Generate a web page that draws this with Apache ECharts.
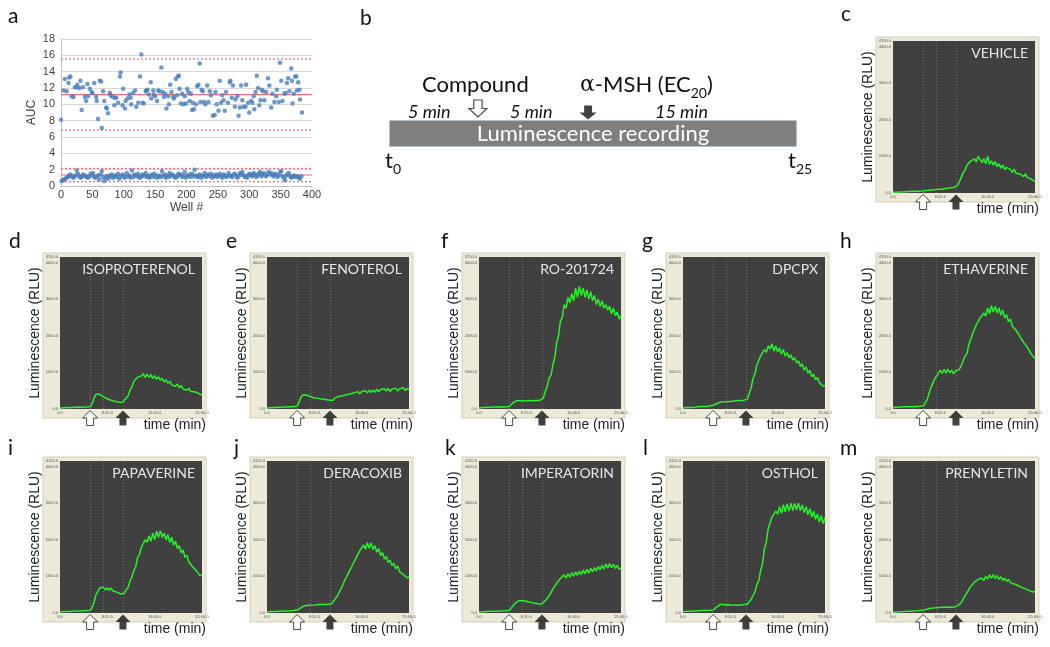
<!DOCTYPE html>
<html><head><meta charset="utf-8">
<script src="https://cdn.jsdelivr.net/npm/echarts@6/dist/echarts.min.js"></script>
<style>html,body{margin:0;padding:0;background:#fff}#chart{width:1050px;height:647px}</style>
</head><body><div id="chart"></div>
<script>
// ---------- Panel a: AUC per well ----------
const highGroup = [[0,8.1],[4,11.7],[6,13.1],[9,11.6],[12,12.6],[13,13.3],[15,13.4],[17,11.0],[20,10.9],[22,12.1],[25,12.1],[26,12.4],[29,12.0],[31,12.9],[33,9.3],[35,12.1],[38,10.9],[40,10.4],[42,12.5],[43,11.0],[46,11.9],[49,11.5],[50,11.4],[53,12.6],[56,10.9],[57,10.4],[59,8.2],[62,12.9],[64,12.8],[65,7.1],[67,11.6],[69,10.4],[72,9.6],[73,9.5],[75,8.9],[78,11.4],[79,11.1],[82,10.9],[85,9.9],[86,10.8],[88,10.8],[91,10.2],[94,13.4],[95,13.9],[98,9.9],[99,11.9],[102,9.5],[103,10.4],[106,10.7],[109,11.2],[111,10.8],[112,10.0],[115,11.4],[118,11.7],[120,9.7],[123,10.2],[126,13.4],[128,16.1],[130,10.2],[132,10.1],[135,11.6],[136,11.7],[138,11.8],[140,11.2],[143,12.7],[144,10.7],[147,11.7],[148,11.2],[150,11.0],[153,10.4],[155,11.7],[157,11.6],[160,14.5],[162,11.5],[164,10.9],[166,11.3],[168,9.5],[171,11.0],[172,10.0],[174,12.4],[176,11.5],[179,10.9],[180,10.7],[183,13.1],[185,11.1],[186,13.4],[188,13.5],[189,11.9],[191,10.1],[193,11.3],[195,10.0],[197,11.0],[199,10.1],[201,11.9],[203,11.5],[205,10.4],[207,11.3],[209,9.3],[210,10.2],[212,9.4],[215,10.0],[217,12.2],[219,12.4],[221,15.0],[222,10.3],[224,11.8],[226,11.6],[228,10.3],[230,10.0],[233,12.3],[235,10.3],[237,11.6],[239,11.1],[242,8.6],[245,8.7],[246,11.5],[248,10.0],[251,9.2],[253,12.9],[255,10.2],[257,11.1],[259,10.5],[261,9.2],[263,11.5],[266,10.2],[269,12.7],[270,12.9],[272,10.8],[274,12.3],[277,9.7],[278,10.6],[281,11.0],[283,8.6],[285,9.6],[287,12.3],[289,10.5],[291,9.7],[294,9.7],[295,12.4],[298,10.2],[300,9.0],[303,10.4],[305,10.2],[307,11.0],[308,9.4],[310,11.5],[312,13.5],[314,12.0],[316,9.9],[318,10.5],[320,11.8],[322,11.6],[324,10.5],[327,11.5],[330,13.2],[332,12.3],[335,9.6],[337,11.3],[340,10.3],[343,11.0],[344,11.8],[347,10.3],[349,15.1],[351,12.9],[353,10.4],[356,11.3],[358,11.4],[360,12.6],[362,13.2],[364,11.6],[367,14.4],[368,12.9],[369,10.1],[371,11.3],[373,13.4],[375,13.4],[376,11.7],[378,12.7],[380,11.8],[381,10.6],[384,9.0]];
const lowAUC = [0.6,0.7,0.8,0.9,1.0,1.1,1.3,1.4,1.2,1.0,1.1,1.3,1.9,1.5,1.2,1.0,1.1,1.4,1.3,1.2,
1.1,1.0,1.2,1.5,1.3,1.6,1.1,1.0,1.2,1.3,0.8,1.4,1.8,1.1,0.6,1.0,1.2,0.9,1.3,1.1,
1.4,1.0,1.2,1.3,1.1,1.5,0.9,1.2,1.3,1.4,1.0,1.1,1.6,1.2,1.3,1.0,1.9,1.1,1.4,1.3,
1.2,1.5,1.0,1.1,1.3,1.4,1.2,1.6,1.1,1.3,1.0,1.2,1.4,1.1,1.5,1.3,1.0,1.2,1.3,1.1,
1.8,1.2,1.4,1.0,1.3,1.1,1.6,1.2,1.4,1.3,1.1,1.0,1.2,1.5,1.3,1.4,1.1,1.2,1.7,1.0,
1.3,1.2,1.4,1.1,1.5,1.2,2.0,1.3,1.1,1.2,1.4,1.0,1.3,1.2,1.6,1.1,1.3,1.4,1.2,1.5,
1.0,1.3,1.2,1.4,1.1,1.3,1.5,1.2,1.0,1.4,1.3,1.1,1.2,1.6,1.3,1.2,1.1,1.4,1.5,1.3,
1.0,1.2,1.6,1.4,1.7,1.3,1.1,1.2,1.0,1.4,1.5,1.3,1.2,1.6,1.4,1.1,1.3,1.5,1.7,1.2,
1.4,1.6,1.3,1.2,1.5,1.7,1.4,1.6,1.3,1.2,1.5,1.4,1.1,1.3,1.7,1.8,1.2,1.0,0.7,1.3,
1.4,1.6,1.2,1.0,1.1,1.3,1.2,1.1,1.2,1.0,0.9,1.2];
const meanLines = [11.2, 1.35];              // group means
const sdLimitLines = [15.55, 6.85, 2.15, 0.53]; // mean ± 3SD
const wellRange = [0, 400];

// ---------- Panel b: protocol scheme (schematic positions on a 0-25 min bar) ----------
const schemeLength = 25;
const schemeCompoundX = 5.45;
const schemeMshX = 12.2;

// ---------- Panels c-m: luminescence traces (RLU every 20 s) ----------
const timeSec = [0,20,40,60,80,100,120,140,160,180,200,220,240,260,280,300,320,340,360,380,400,420,440,460,480,500,520,540,560,580,600,620,640,660,680,700,720,740,760,780,800,820,840,860,880,900,920,940,960,980,1000,1020,1040,1060,1080,1100,1120,1140,1160,1180,1200,1220,1240,1260,1280,1300,1320,1340,1360,1380,1400,1420,1440,1460,1480,1500];
const timeTickLabels = ['0.0','8:20.0','16:40.0','25:00.0'];
const eventLinesSec = [318, 460, 665];
const compoundSec = 318;
const mshSec = 665;

const traceVehicle = [20,25,22,30,28,35,33,38,40,37,45,42,48,50,47,55,58,65,70,68,80,85,90,95,100,110,105,120,125,130,140,135,150,160,200,300,420,550,620,760,780,870,840,930,850,1000,960,830,940,800,1000,780,880,760,860,720,800,680,760,640,700,660,640,560,650,540,580,520,540,450,520,420,430,380,370,310];
const traceIsoproterenol = [30,35,32,40,38,45,42,48,50,46,52,55,50,58,56,60,65,150,300,400,430,400,360,330,300,280,250,240,220,210,200,190,180,175,200,300,360,520,600,750,760,870,850,900,960,860,950,860,940,830,910,810,880,780,840,740,800,700,760,660,710,620,680,580,640,550,600,510,570,480,520,470,480,430,450,380];
const traceFenoterol = [30,40,35,45,40,50,45,55,48,52,58,50,60,55,62,65,80,200,330,390,370,380,350,340,320,300,310,290,280,270,285,260,250,240,280,240,310,270,340,310,360,330,390,340,410,380,440,390,470,410,480,430,500,440,510,450,520,460,540,470,530,480,550,490,560,480,540,500,570,490,550,510,580,500,560,530];
const traceRo201724 = [30,35,40,38,45,42,50,48,55,52,58,55,60,62,58,65,70,120,170,210,230,240,225,235,220,245,230,240,225,250,235,240,230,250,300,480,620,840,920,1200,1400,1800,2000,2400,2500,2850,2750,3050,2900,3150,2950,3300,3050,3350,3100,3300,3050,3250,3000,3200,2950,3100,2850,3000,2800,2950,2750,2850,2700,2800,2600,2750,2550,2650,2450,2550];
const traceDpcpx = [30,35,40,45,42,50,48,55,60,58,65,70,68,75,80,85,100,120,150,170,190,200,195,210,205,220,210,215,225,210,230,220,235,225,270,420,580,840,960,1200,1250,1450,1450,1620,1550,1720,1640,1780,1580,1720,1560,1660,1500,1620,1440,1540,1400,1480,1340,1400,1260,1320,1160,1240,1060,1150,980,1050,880,950,800,860,720,760,620,640];
const traceEthaverine = [40,45,50,48,55,52,60,58,62,65,60,68,70,66,72,75,80,130,250,420,580,700,820,900,940,1060,970,1080,980,1090,990,1060,960,1040,1060,1080,1180,1220,1440,1500,1750,1800,2050,2100,2300,2300,2480,2440,2620,2540,2760,2600,2820,2650,2800,2620,2760,2560,2700,2480,2580,2380,2460,2260,2300,2150,2150,1980,2000,1820,1850,1680,1700,1500,1520,1380];
const tracePapaverine = [30,35,38,40,42,45,48,50,52,55,58,55,60,62,65,68,75,150,300,500,580,690,650,700,630,690,620,680,600,640,570,590,520,540,540,640,700,880,980,1160,1260,1520,1600,1800,1800,2000,1930,2100,1960,2180,2000,2230,2060,2250,2060,2180,1990,2140,1920,2070,1850,1960,1760,1840,1640,1720,1520,1580,1400,1440,1260,1300,1150,1180,1020,1040];
const traceDeracoxib = [30,35,38,40,42,45,48,50,52,55,58,60,62,65,68,70,80,110,150,180,200,220,210,230,215,235,220,225,240,220,230,215,235,225,250,310,350,450,500,650,700,880,920,1090,1120,1290,1310,1500,1520,1700,1680,1860,1740,1920,1770,1910,1730,1840,1660,1760,1570,1650,1470,1540,1380,1440,1300,1360,1210,1280,1130,1180,1050,1100,960,1000];
const traceImperatorin = [30,32,35,38,40,42,45,48,50,52,50,55,58,60,62,65,75,130,200,260,300,330,320,340,310,320,300,290,280,270,260,255,250,245,270,330,370,470,520,650,680,810,820,940,920,1040,950,1070,980,1100,1010,1120,1030,1140,1050,1170,1070,1190,1090,1220,1130,1240,1150,1270,1180,1300,1200,1340,1230,1350,1240,1330,1220,1300,1190,1230];
const traceOsthol = [40,42,45,48,50,52,55,58,60,62,65,68,70,72,75,78,85,120,170,210,240,230,220,245,225,235,215,230,220,240,210,225,230,220,240,310,370,470,580,780,870,1150,1350,1750,1950,2300,2350,2620,2580,2780,2700,2900,2720,2960,2760,2980,2780,3000,2800,2990,2820,3000,2800,2950,2740,2900,2680,2850,2620,2780,2560,2700,2480,2660,2440,2600];
const tracePrenyletin = [20,25,28,30,32,35,38,40,45,48,50,55,58,60,65,70,80,90,100,110,130,150,140,160,150,165,155,170,160,175,165,170,160,175,190,240,280,380,420,550,580,720,720,840,820,920,880,950,890,1000,930,1040,950,1050,940,1020,920,990,890,950,860,920,830,880,790,840,750,790,700,740,660,700,610,650,570,600];

const traceNames = ['VEHICLE','ISOPROTERENOL','FENOTEROL','RO-201724','DPCPX','ETHAVERINE','PAPAVERINE','DERACOXIB','IMPERATORIN','OSTHOL','PRENYLETIN'];
const traceValues = [traceVehicle,traceIsoproterenol,traceFenoterol,traceRo201724,traceDpcpx,traceEthaverine,tracePapaverine,traceDeracoxib,traceImperatorin,traceOsthol,tracePrenyletin];

// ---------- Layout (pixels) ----------
const panelPos = [[893,41],[60,257],[267,257],[479,257],[683,257],[893,257],[60,461],[267,461],[479,461],[683,461],[893,461]];
const PW = 142, PH = 152;
const letterPos = {a:[8,6],b:[360,8],c:[841,4],d:[9,231],e:[226,231],f:[441,231],g:[642,231],h:[840,231],i:[8,438],j:[234,438],k:[445,438],l:[643,438],m:[840,438]};

const SANS = '"Liberation Sans", Arial, sans-serif';
const CAL = 'Lato, "Open Sans", sans-serif';
const arrowUp = 'path://M4,16L4,8L0,8L7.5,0L15,8L11,8L11,16Z';
const arrowDown = 'path://M4,0L4,8L0,8L7.5,16L15,8L11,8L11,0Z';

const grids = [], xAxes = [], yAxes = [], series = [], titles = [], graphics = [];

// Panel a
grids.push({left:61, top:39, width:251, height:147});
xAxes.push({gridIndex:0, type:'value', min:0, max:400, interval:50,
  name:'Well #', nameLocation:'middle', nameGap:16,
  nameTextStyle:{fontSize:12, color:'#404040', fontFamily:SANS},
  axisLine:{show:true, lineStyle:{color:'#bfbfbf'}}, axisTick:{show:false}, splitLine:{show:false},
  axisLabel:{fontSize:11, color:'#404040', margin:3, fontFamily:SANS}});
yAxes.push({gridIndex:0, type:'value', min:0, max:18, interval:2,
  name:'AUC', nameLocation:'middle', nameGap:23,
  nameTextStyle:{fontSize:12, color:'#404040', fontFamily:SANS},
  axisLine:{show:true, lineStyle:{color:'#bfbfbf'}}, axisTick:{show:false},
  splitLine:{show:true, lineStyle:{color:'#d9d9d9'}},
  axisLabel:{fontSize:11, color:'#404040', margin:6, fontFamily:SANS}});
meanLines.forEach(v => series.push({type:'line', xAxisIndex:0, yAxisIndex:0, silent:true, showSymbol:false, z:2,
  data:wellRange.map(w => [w, v]), lineStyle:{color:'#e46f6f', width:1.2, type:'solid'}}));
sdLimitLines.forEach(v => series.push({type:'line', xAxisIndex:0, yAxisIndex:0, silent:true, showSymbol:false, z:2,
  data:wellRange.map(w => [w, v]), lineStyle:{color:'#e46f6f', width:1.2, type:[2,2]}}));
[highGroup, lowAUC.map((v,k)=>[2*k+1, v])].forEach(d => {
  series.push({type:'scatter', xAxisIndex:0, yAxisIndex:0, data:d, symbolSize:4.5,
    itemStyle:{color:'#4a7ebb'}, z:3, silent:true});
});

// Panel b
grids.push({left:389, top:120, width:408, height:27});
xAxes.push({gridIndex:1, type:'value', min:0, max:schemeLength, show:false});
yAxes.push({gridIndex:1, type:'category', data:['rec'], show:false});
series.push({type:'bar', xAxisIndex:1, yAxisIndex:1, data:[schemeLength], barWidth:27,
  itemStyle:{color:'#7f7f7f', borderColor:'#a8bfd8', borderType:'dotted', borderWidth:1},
  label:{show:true, position:'inside', formatter:'Luminescence recording', color:'#ffffff', fontSize:22, fontFamily:CAL},
  silent:true});
series.push({type:'scatter', xAxisIndex:1, yAxisIndex:1, clip:false, silent:true,
  data:[[schemeCompoundX,0]], symbol:arrowDown, symbolSize:[18,17], symbolOffset:[0,-25],
  itemStyle:{color:'#ffffff', borderColor:'#222', borderWidth:1.2}, z:5});
series.push({type:'scatter', xAxisIndex:1, yAxisIndex:1, clip:false, silent:true,
  data:[[schemeMshX,0]], symbol:arrowDown, symbolSize:[17,14], symbolOffset:[0,-21],
  itemStyle:{color:'#111'}, z:5});

// Panels c-m
traceValues.forEach((vals, k) => {
  const gi = k + 2;
  const [L, T] = panelPos[k];
  graphics.push({type:'rect', z:-10, shape:{x:L-17, y:T-4, width:PW+21, height:PH+13},
    style:{fill:'#ece9d8', stroke:'#d2cebb', lineWidth:1}});
  grids.push({left:L, top:T, width:PW, height:PH, show:true, backgroundColor:'#404040', borderWidth:0});
  xAxes.push({gridIndex:gi, type:'value', min:0, max:1500, interval:500,
    axisLine:{show:false}, axisTick:{show:false}, splitLine:{show:false},
    axisLabel:{fontSize:4, color:'#555', margin:2, formatter: v => timeTickLabels[Math.round(v/500)]}});
  yAxes.push({gridIndex:gi, type:'value', min:0, max:4150, interval:1000,
    name:'Luminescence (RLU)', nameLocation:'middle', nameGap:12,
    nameTextStyle:{fontSize:14, color:'#222', fontFamily:SANS},
    axisLine:{show:false}, axisTick:{show:false}, splitLine:{show:false},
    axisLabel:{fontSize:4, color:'#555', margin:2, formatter: v => v.toFixed(1)}});
  series.push({type:'line', xAxisIndex:gi, yAxisIndex:gi, data:timeSec.map((t,j)=>[t, vals[j]]),
    showSymbol:false, silent:true, lineStyle:{color:'#2bf02b', width:1.5}, z:3,
    markLine:{silent:true, symbol:'none', label:{show:false},
      lineStyle:{color:'#707070', type:[1,2], width:1}, data:eventLinesSec.map(s=>({xAxis:s})), z:2}});
  series.push({type:'scatter', xAxisIndex:gi, yAxisIndex:gi, clip:false, silent:true,
    data:[[compoundSec,0]], symbol:arrowUp, symbolSize:[15,15], symbolOffset:[0,9],
    itemStyle:{color:'#ffffff', borderColor:'#222', borderWidth:1}, z:5});
  series.push({type:'scatter', xAxisIndex:gi, yAxisIndex:gi, clip:false, silent:true,
    data:[[mshSec,0]], symbol:arrowUp, symbolSize:[15,15], symbolOffset:[0,9],
    itemStyle:{color:'#111'}, z:5});
  titles.push({text:traceNames[k], right:1050-(L+PW-7), top:T+5, padding:0,
    textStyle:{fontSize:14, fontWeight:'normal', color:'#e6e6e6', fontFamily:CAL}});
  titles.push({text:'time (min)', right:1050-(L+PW+4), top:T+PH+9, padding:0,
    textStyle:{fontSize:14, fontWeight:'normal', color:'#222', fontFamily:SANS}});
});

// Panel letters
Object.keys(letterPos).forEach(l => {
  titles.push({text:l, left:letterPos[l][0], top:letterPos[l][1], padding:0,
    textStyle:{fontSize:21, fontWeight:'normal', color:'#111', fontFamily:CAL}});
});

// Panel b texts
const bText = (text, left, top, size, italic) => titles.push({text, left, top, padding:0,
  textStyle:{fontSize:size, fontWeight:'normal', fontStyle: italic ? 'italic' : 'normal', color:'#111', fontFamily:CAL}});
bText('Compound', 422, 74, 22);
bText('5 min', 408, 103, 18, true);
bText('5 min', 510, 103, 18, true);
bText('15 min', 655, 103, 18, true);
const subRich = {
  m:{fontSize:22, lineHeight:30, verticalAlign:'middle', fontFamily:CAL, fontWeight:'normal', color:'#111'},
  g:{fontSize:22, lineHeight:30, verticalAlign:'middle', fontFamily:'"DejaVu Serif", serif', fontWeight:'normal', color:'#111'},
  s:{fontSize:14, lineHeight:14, verticalAlign:'bottom', fontFamily:CAL, fontWeight:'normal', color:'#111'}};
const richTitle = (text, left, top) => titles.push({text, left, top, padding:0,
  textStyle:{fontWeight:'normal', rich:subRich}});
richTitle('{g|α}{m|-MSH (EC}{s|20}{m|)}', 580, 70);
richTitle('{m|t}{s|0}', 385, 146);
richTitle('{m|t}{s|25}', 788, 146);

const chart = echarts.init(document.getElementById('chart'));
chart.setOption({
  animation:false,
  backgroundColor:'#ffffff',
  title:titles, grid:grids, xAxis:xAxes, yAxis:yAxes, series:series,
  graphic:{elements:graphics}
});
</script>
</body></html>
